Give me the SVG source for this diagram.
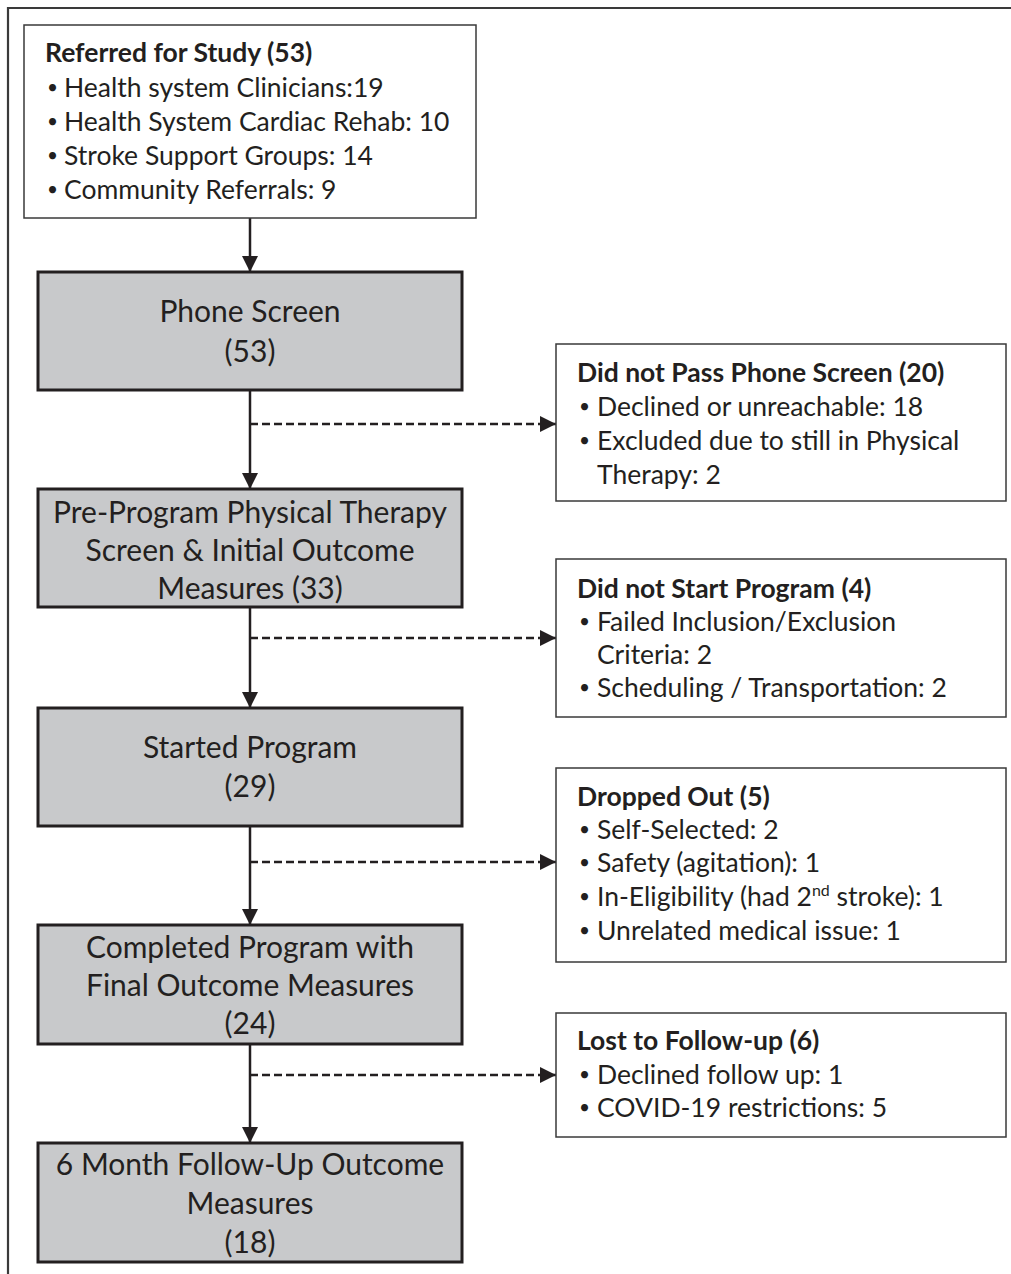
<svg xmlns="http://www.w3.org/2000/svg" width="1011" height="1274" viewBox="0 0 1011 1274">
<defs>
<marker id="ah" markerUnits="userSpaceOnUse" markerWidth="16" markerHeight="16" viewBox="0 0 16 16" refX="16" refY="8" orient="auto">
<path d="M0,0 L16,8 L0,16 Z" fill="#231f20"/>
</marker>
</defs>
<style>
.wbox{fill:#ffffff;stroke:#3a3a3a;stroke-width:1.5}
.gbox{fill:#c8c9cb;stroke:#231f20;stroke-width:3}
.t{font-family:Lato,"Open Sans",sans-serif;fill:#231f20}
.s{font-size:26.5px}
.bu{font-size:19px}
.b{font-weight:bold}
.g{font-size:30px;text-anchor:middle}
.solid{stroke:#231f20;stroke-width:2.5;fill:none}
.dash{stroke:#231f20;stroke-width:2.3;fill:none;stroke-dasharray:8 4}
</style>
<rect width="1011" height="1274" fill="#ffffff"/>
<path d="M8,1274 L8,8 L1011,8" fill="none" stroke="#3a3a3a" stroke-width="2.2"/>

<g id="connectors">
<line class="solid" x1="250" y1="218" x2="250" y2="272" marker-end="url(#ah)"/>
<line class="solid" x1="250" y1="390" x2="250" y2="489" marker-end="url(#ah)"/>
<line class="dash" x1="250" y1="424" x2="556" y2="424" marker-end="url(#ah)"/>
<line class="solid" x1="250" y1="607" x2="250" y2="708" marker-end="url(#ah)"/>
<line class="dash" x1="250" y1="638" x2="556" y2="638" marker-end="url(#ah)"/>
<line class="solid" x1="250" y1="826" x2="250" y2="925" marker-end="url(#ah)"/>
<line class="dash" x1="250" y1="862" x2="556" y2="862" marker-end="url(#ah)"/>
<line class="solid" x1="250" y1="1044" x2="250" y2="1143" marker-end="url(#ah)"/>
<line class="dash" x1="250" y1="1075" x2="556" y2="1075" marker-end="url(#ah)"/>
</g>

<g id="referred">
<rect class="wbox" x="24" y="25" width="452" height="193"/>
<text class="t s b" x="45" y="62">Referred for Study (53)</text>
<text class="t bu" x="47" y="94">•</text><text class="t s" x="64" y="97">Health system Clinicians:19</text>
<text class="t bu" x="47" y="128">•</text><text class="t s" x="64" y="131">Health System Cardiac Rehab: 10</text>
<text class="t bu" x="47" y="162">•</text><text class="t s" x="64" y="165">Stroke Support Groups: 14</text>
<text class="t bu" x="47" y="196">•</text><text class="t s" x="64" y="199">Community Referrals: 9</text>
</g>

<g id="phone">
<rect class="gbox" x="38" y="272" width="424" height="118"/>
<text class="t g" x="250" y="322">Phone Screen</text>
<text class="t g" x="250" y="362">(53)</text>
</g>

<g id="notpass">
<rect class="wbox" x="556" y="344" width="450" height="157"/>
<text class="t s b" x="577" y="382">Did not Pass Phone Screen (20)</text>
<text class="t bu" x="579" y="413">•</text><text class="t s" x="597" y="416">Declined or unreachable: 18</text>
<text class="t bu" x="579" y="447">•</text><text class="t s" x="597" y="450">Excluded due to still in Physical</text>
<text class="t s" x="597" y="484">Therapy: 2</text>
</g>

<g id="preprogram">
<rect class="gbox" x="38" y="489" width="424" height="118"/>
<text class="t g" x="250" y="523">Pre-Program Physical Therapy</text>
<text class="t g" x="250" y="561">Screen &amp; Initial Outcome</text>
<text class="t g" x="250" y="599">Measures (33)</text>
</g>

<g id="notstart">
<rect class="wbox" x="556" y="559" width="450" height="158"/>
<text class="t s b" x="577" y="598">Did not Start Program (4)</text>
<text class="t bu" x="579" y="628">•</text><text class="t s" x="597" y="631">Failed Inclusion/Exclusion</text>
<text class="t s" x="597" y="664">Criteria: 2</text>
<text class="t bu" x="579" y="694">•</text><text class="t s" x="597" y="697">Scheduling / Transportation: 2</text>
</g>

<g id="started">
<rect class="gbox" x="38" y="708" width="424" height="118"/>
<text class="t g" x="250" y="758">Started Program</text>
<text class="t g" x="250" y="797">(29)</text>
</g>

<g id="dropped">
<rect class="wbox" x="556" y="768" width="450" height="194"/>
<text class="t s b" x="577" y="806">Dropped Out (5)</text>
<text class="t bu" x="579" y="836">•</text><text class="t s" x="597" y="839">Self-Selected: 2</text>
<text class="t bu" x="579" y="869">•</text><text class="t s" x="597" y="872">Safety (agitation): 1</text>
<text class="t bu" x="579" y="903">•</text><text class="t s" x="597" y="906">In-Eligibility (had 2<tspan font-size="16" dy="-10">nd</tspan><tspan dy="10"> stroke): 1</tspan></text>
<text class="t bu" x="579" y="937">•</text><text class="t s" x="597" y="940">Unrelated medical issue: 1</text>
</g>

<g id="completed">
<rect class="gbox" x="38" y="925" width="424" height="119"/>
<text class="t g" x="250" y="958">Completed Program with</text>
<text class="t g" x="250" y="996">Final Outcome Measures</text>
<text class="t g" x="250" y="1034">(24)</text>
</g>

<g id="lost">
<rect class="wbox" x="556" y="1013" width="450" height="124"/>
<text class="t s b" x="577" y="1050">Lost to Follow-up (6)</text>
<text class="t bu" x="579" y="1081">•</text><text class="t s" x="597" y="1084">Declined follow up: 1</text>
<text class="t bu" x="579" y="1114">•</text><text class="t s" x="597" y="1117">COVID-19 restrictions: 5</text>
</g>

<g id="followup">
<rect class="gbox" x="38" y="1143" width="424" height="119"/>
<text class="t g" x="250" y="1175">6 Month Follow-Up Outcome</text>
<text class="t g" x="250" y="1214">Measures</text>
<text class="t g" x="250" y="1253">(18)</text>
</g>
</svg>
